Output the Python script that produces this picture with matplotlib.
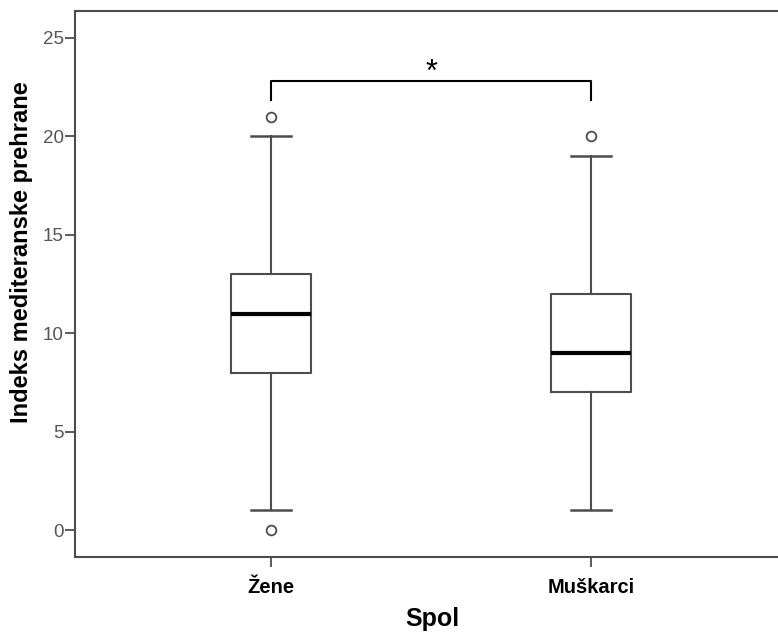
import matplotlib
matplotlib.use("Agg")
import matplotlib.pyplot as plt

categories = ["Žene", "Muškarci"]
whislo = [1, 1]
q1 = [8, 7]
med = [11, 9]
q3 = [13, 12]
whishi = [20, 19]
fliers = [[0, 21], [20]]
yticks = [0, 5, 10, 15, 20, 25]
bracket_y = 22.8
bracket_drop = 21.85
sig_label = "*"

plt.rcParams['font.family'] = ['Liberation Sans', 'DejaVu Sans']

W, H = 778, 635
fig = plt.figure(figsize=(W/100, H/100), dpi=100)
ax_w_px = W - 75 + 8
ax = fig.add_axes([75/W, 78/H, ax_w_px/W, (557-11)/H])

stats = []
for i, c in enumerate(categories):
    stats.append(dict(label=c, whislo=whislo[i], q1=q1[i], med=med[i], q3=q3[i],
                      whishi=whishi[i], fliers=fliers[i]))

gray = '#4d4d4d'
ax.bxp(stats, positions=[1, 2], widths=0.25, showfliers=True,
       boxprops=dict(color=gray, linewidth=1.5),
       whiskerprops=dict(color=gray, linewidth=1.5),
       capprops=dict(color=gray, linewidth=1.8),
       medianprops=dict(color='black', linewidth=3),
       flierprops=dict(marker='o', markersize=7, markerfacecolor='white',
                       markeredgecolor=gray, markeredgewidth=1.3),
       capwidths=0.125)

x0 = 1 - 196/320
ax.set_xlim(x0, x0 + ax_w_px/320)
ax.set_ylim(-1.37, 26.37)
ax.set_yticks(yticks)
ax.set_yticklabels([str(v) for v in yticks], color='#555555', fontsize=13.5)
ax.set_xticks([1, 2])
ax.set_xticklabels(categories, fontsize=14.5, fontweight='bold', color='black')

for s in ['left', 'bottom', 'top']:
    ax.spines[s].set_color(gray)
    ax.spines[s].set_linewidth(1.5)
ax.spines['right'].set_visible(False)
ax.tick_params(axis='both', direction='out', length=7, width=1.3, color=gray)
ax.tick_params(axis='y', pad=1)
ax.tick_params(axis='x', pad=8)

fig.text(22/W, 1 - 252/H, "Indeks mediteranske prehrane", rotation=90,
         ha='center', va='center', fontsize=17, fontweight='bold')
fig.text(432/W, 1 - 619/H, "Spol", ha='center', va='center',
         fontsize=18, fontweight='bold')

ax.plot([1, 1, 2, 2], [bracket_drop, bracket_y, bracket_y, bracket_drop], color='black', linewidth=1.5)
ax.text(1.5, 23.22, sig_label, ha='center', va='center', fontsize=22, color='black')

fig.savefig("out.png", dpi=100)
